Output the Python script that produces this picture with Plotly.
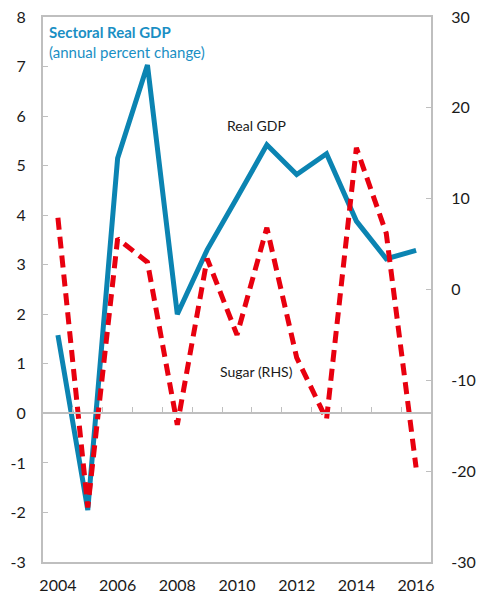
import plotly.graph_objects as go

years = list(range(2004, 2017))
real_gdp = [1.58, -1.95, 5.15, 7.03, 2.0, 3.3, 4.35, 5.42, 4.82, 5.24, 3.88, 3.12, 3.29]
sugar_rhs = [7.9, -24.0, 5.6, 3.0, -14.9, 3.4, -5.0, 6.8, -7.5, -14.3, 15.6, 6.2, -19.6]
x_tick_labels = ["2004", "2006", "2008", "2010", "2012", "2014", "2016"]
x_tick_vals = [2004, 2006, 2008, 2010, 2012, 2014, 2016]
left_tick_vals = [-3, -2, -1, 0, 1, 2, 3, 4, 5, 6, 7, 8]
left_tick_labels = ["-3", "-2", "-1", "0", "1", "2", "3", "4", "5", "6", "7", "8"]
right_tick_vals = [-30, -20, -10, 0, 10, 20, 30]
right_tick_labels = ["-30", "-20", "-10", "0", "10", "20", "30"]
boundary_ticks = [y + 0.5 for y in years[:-1]]

BLUE = "#0B84B2"
RED = "#E8000F"
GRID = "#BFBFBF"
FONT = "Lato"

fig = go.Figure()
fig.add_trace(go.Scatter(x=years, y=real_gdp, mode="lines", name="Real GDP",
                         line=dict(color=BLUE, width=5), yaxis="y", xaxis="x"))
fig.add_trace(go.Scatter(x=years, y=sugar_rhs, mode="lines", name="Sugar (RHS)",
                         line=dict(color=RED, width=5, dash="12px,7px"), yaxis="y2", xaxis="x"))
# invisible helper trace so the zero-crossing axis is drawn
fig.add_trace(go.Scatter(x=years, y=real_gdp, mode="lines", line=dict(width=0),
                         hoverinfo="skip", showlegend=False, xaxis="x2", yaxis="y"))

fig.update_layout(
    width=478, height=600,
    autosize=False,
    margin=dict(l=43, r=47, t=17, b=38, autoexpand=False),
    paper_bgcolor="white", plot_bgcolor="white",
    showlegend=False,
    font=dict(family=FONT, size=16, color="#1a1a1a"),
    xaxis=dict(range=[2003.5, 2016.5], tickvals=x_tick_vals, ticktext=x_tick_labels,
               showgrid=False, zeroline=False, showline=True, linecolor=GRID, linewidth=2,
               mirror=True, ticks="", ticklabelstandoff=8, automargin=False),
    xaxis2=dict(range=[2003.5, 2016.5], overlaying="x", anchor="free", position=3/11,
                tickvals=boundary_ticks, showticklabels=False, ticks="inside", ticklen=5,
                tickcolor=GRID, tickwidth=1, showline=True, linecolor=GRID, linewidth=2,
                showgrid=False, zeroline=False, automargin=False),
    yaxis=dict(range=[-3, 8], tickvals=left_tick_vals, ticktext=left_tick_labels,
               showgrid=False, zeroline=False,
               showline=True, linecolor=GRID, linewidth=2, ticks="inside", ticklen=5,
               tickcolor=GRID, tickwidth=1, ticklabelstandoff=12, automargin=False),
    yaxis2=dict(range=[-30, 30], tickvals=right_tick_vals, ticktext=right_tick_labels,
                overlaying="y", side="right",
                showgrid=False, zeroline=False, showline=True, linecolor=GRID, linewidth=2,
                ticks="inside", ticklen=5, tickcolor=GRID, tickwidth=1, ticklabelstandoff=15,
                automargin=False),
)

fig.add_annotation(xref="paper", yref="paper", x=0.011, y=0.973, xanchor="left", yanchor="middle",
                   text="<b>Sectoral Real GDP</b>", showarrow=False,
                   font=dict(family=FONT, size=15, color="#1A8FC4"))
fig.add_annotation(xref="paper", yref="paper", x=0.011, y=0.935, xanchor="left", yanchor="middle",
                   text="(annual percent change)", showarrow=False,
                   font=dict(family=FONT, size=15, color="#1A8FC4"))
fig.add_annotation(xref="paper", yref="paper", x=0.549, y=0.80, xanchor="center", yanchor="middle",
                   text="Real GDP", showarrow=False,
                   font=dict(family=FONT, size=14, color="#1a1a1a"))
fig.add_annotation(xref="paper", yref="paper", x=0.549, y=0.349, xanchor="center", yanchor="middle",
                   text="Sugar (RHS)", showarrow=False,
                   font=dict(family=FONT, size=14, color="#1a1a1a"))

fig.write_html("out.html", config={"displayModeBar": False},
               post_script="document.body.style.margin='0px';")
